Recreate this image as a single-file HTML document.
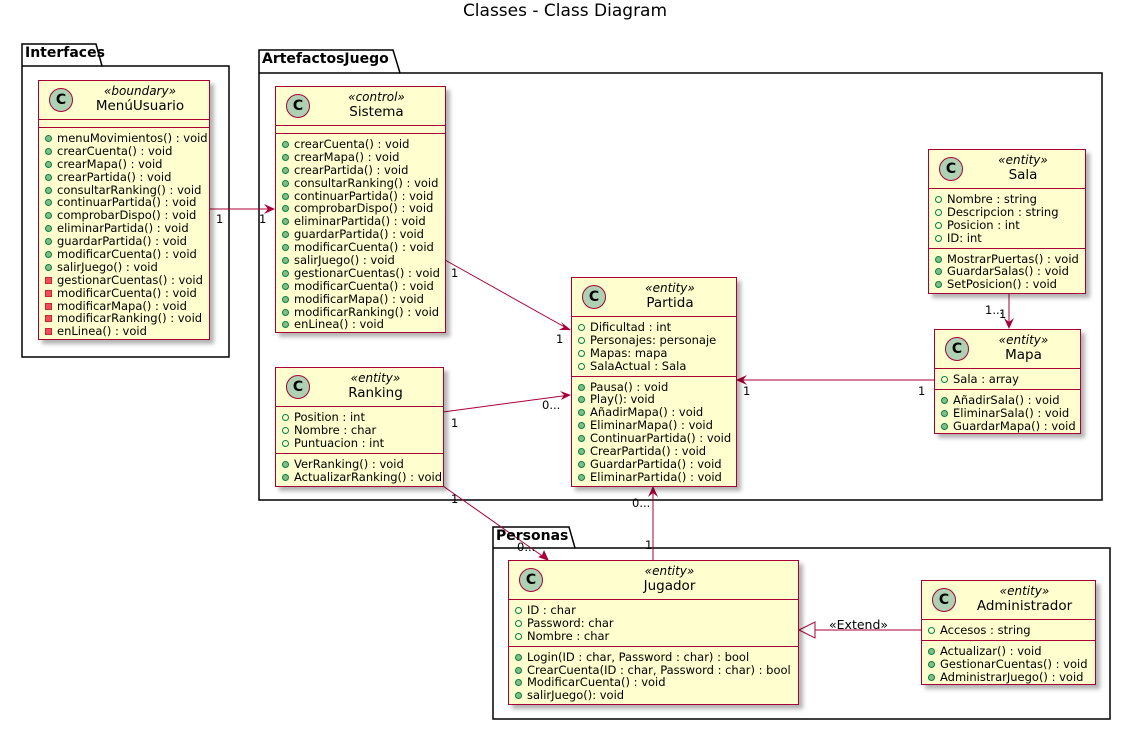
<!DOCTYPE html>
<html><head><meta charset="utf-8"><style>
body{margin:0;width:1130px;height:731px;background:#fff;position:relative;overflow:hidden;font-family:"DejaVu Sans","Liberation Sans",sans-serif;}
svg{position:absolute;left:0;top:0}
.c{position:absolute;background:#FEFECE;border:1.5px solid #A80036;box-shadow:4px 4px 4px rgba(0,0,0,.3);font-size:11.5px;color:#000;box-sizing:border-box;display:flex;flex-direction:column}
.h{height:38px;position:relative;flex:none}
.h .ci{position:absolute;left:10px;top:7px;width:22px;height:22px;border-radius:50%;background:#ADD1B2;border:1px solid #A80036;font:bold 14px "DejaVu Sans",sans-serif;text-align:center;line-height:22px}
.h .st{position:absolute;left:32px;right:0;top:3px;text-align:center;font-style:italic;font-size:12px}
.h .nm{position:absolute;left:32px;right:0;top:17px;text-align:center;font-size:13.5px}
.s{border-top:1.5px solid #A80036;padding:4px 0 3px 6px;flex:none}
.s.last{flex:1}
.r{height:12.9px;line-height:12.9px;white-space:nowrap}
.r i{display:inline-block;width:7px;height:7px;border-radius:50%;margin-right:5px;vertical-align:0px;box-sizing:border-box}
.f i{border:1px solid #038048;background:none}
.m i{background:#84BE84;border:1px solid #038048}
.p i{background:#F24D5C;border:1px solid #C82930;border-radius:0}
.t{position:absolute;font-size:11.5px;white-space:nowrap}
.pk{position:absolute;font-weight:bold;font-size:14px}
</style></head><body>
<div style="position:absolute;left:0;width:1130px;top:1px;text-align:center;font-size:17px">Classes - Class Diagram</div>
<svg width="1130" height="731">
<g fill="#fff" stroke="#000" stroke-width="1.5">
<polygon points="22,44 96,44 102,66 229,66 229,357 22,357"/>
<line x1="22" y1="66" x2="102" y2="66"/>
<polygon points="259,50 393,50 400,73 1102,73 1102,500 259,500"/>
<line x1="259" y1="73" x2="400" y2="73"/>
<polygon points="493,527 569,527 575,548 1110,548 1110,719 493,719"/>
<line x1="493" y1="548" x2="575" y2="548"/>
</g>
<g stroke="#A80036" stroke-width="1" fill="none">
<line x1="209" y1="209" x2="274" y2="209"/>
<line x1="445" y1="260" x2="570" y2="330"/>
<line x1="443" y1="412" x2="570" y2="395"/>
<line x1="934" y1="380" x2="737" y2="380"/>
<line x1="1009" y1="293" x2="1009" y2="328"/>
<line x1="443" y1="486" x2="548" y2="560"/>
<line x1="653" y1="560" x2="653" y2="487"/>
<line x1="921" y1="630" x2="815" y2="630"/>
</g>
<g fill="#A80036">
<polygon points="275,209 264,204 268,209 264,214"/>
<polygon points="571,330 559,330 564,327 561,322"/>
<polygon points="571,395 560,391 564,395 561,400"/>
<polygon points="736,380 747,375 743,380 747,385"/>
<polygon points="1009,329 1004,318 1009,322 1014,318"/>
<polygon points="549,561 544,550 542,555 538,557"/>
<polygon points="653,486 648,497 653,493 658,497"/>
</g>
<polygon points="799,630 815,622 815,638" fill="#fff" stroke="#A80036"/>
</svg>
<div class="pk" style="left:25px;top:45px">Interfaces</div>
<div class="pk" style="left:262px;top:51px">ArtefactosJuego</div>
<div class="pk" style="left:496px;top:528px">Personas</div>

<div class="c" style="left:38px;top:80px;width:172px;height:260px">
<div class="h"><div class="ci">C</div><div class="st">«boundary»</div><div class="nm">MenúUsuario</div></div>
<div class="s" style="height:7px;padding:0"></div>
<div class="s last">
<div class="r m"><i></i>menuMovimientos() : void</div><div class="r m"><i></i>crearCuenta() : void</div><div class="r m"><i></i>crearMapa() : void</div><div class="r m"><i></i>crearPartida() : void</div><div class="r m"><i></i>consultarRanking() : void</div><div class="r m"><i></i>continuarPartida() : void</div><div class="r m"><i></i>comprobarDispo() : void</div><div class="r m"><i></i>eliminarPartida() : void</div><div class="r m"><i></i>guardarPartida() : void</div><div class="r m"><i></i>modificarCuenta() : void</div><div class="r m"><i></i>salirJuego() : void</div><div class="r p"><i></i>gestionarCuentas() : void</div><div class="r p"><i></i>modificarCuenta() : void</div><div class="r p"><i></i>modificarMapa() : void</div><div class="r p"><i></i>modificarRanking() : void</div><div class="r p"><i></i>enLinea() : void</div>
</div></div>

<div class="c" style="left:275px;top:86px;width:171px;height:247px">
<div class="h"><div class="ci">C</div><div class="st">«control»</div><div class="nm">Sistema</div></div>
<div class="s" style="height:7px;padding:0"></div>
<div class="s last">
<div class="r m"><i></i>crearCuenta() : void</div><div class="r m"><i></i>crearMapa() : void</div><div class="r m"><i></i>crearPartida() : void</div><div class="r m"><i></i>consultarRanking() : void</div><div class="r m"><i></i>continuarPartida() : void</div><div class="r m"><i></i>comprobarDispo() : void</div><div class="r m"><i></i>eliminarPartida() : void</div><div class="r m"><i></i>guardarPartida() : void</div><div class="r m"><i></i>modificarCuenta() : void</div><div class="r m"><i></i>salirJuego() : void</div><div class="r m"><i></i>gestionarCuentas() : void</div><div class="r m"><i></i>modificarCuenta() : void</div><div class="r m"><i></i>modificarMapa() : void</div><div class="r m"><i></i>modificarRanking() : void</div><div class="r m"><i></i>enLinea() : void</div>
</div></div>

<div class="c" style="left:275px;top:367px;width:169px;height:120px">
<div class="h"><div class="ci">C</div><div class="st">«entity»</div><div class="nm">Ranking</div></div>
<div class="s"><div class="r f"><i></i>Position : int</div><div class="r f"><i></i>Nombre : char</div><div class="r f"><i></i>Puntuacion : int</div></div>
<div class="s last"><div class="r m"><i></i>VerRanking() : void</div><div class="r m"><i></i>ActualizarRanking() : void</div></div>
</div>

<div class="c" style="left:571px;top:277px;width:166px;height:210px">
<div class="h"><div class="ci">C</div><div class="st">«entity»</div><div class="nm">Partida</div></div>
<div class="s"><div class="r f"><i></i>Dificultad : int</div><div class="r f"><i></i>Personajes: personaje</div><div class="r f"><i></i>Mapas: mapa</div><div class="r f"><i></i>SalaActual : Sala</div></div>
<div class="s last"><div class="r m"><i></i>Pausa() : void</div><div class="r m"><i></i>Play(): void</div><div class="r m"><i></i>AñadirMapa() : void</div><div class="r m"><i></i>EliminarMapa() : void</div><div class="r m"><i></i>ContinuarPartida() : void</div><div class="r m"><i></i>CrearPartida() : void</div><div class="r m"><i></i>GuardarPartida() : void</div><div class="r m"><i></i>EliminarPartida() : void</div></div>
</div>

<div class="c" style="left:928px;top:149px;width:158px;height:145px">
<div class="h"><div class="ci">C</div><div class="st">«entity»</div><div class="nm">Sala</div></div>
<div class="s"><div class="r f"><i></i>Nombre : string</div><div class="r f"><i></i>Descripcion : string</div><div class="r f"><i></i>Posicion : int</div><div class="r f"><i></i>ID: int</div></div>
<div class="s last"><div class="r m"><i></i>MostrarPuertas() : void</div><div class="r m"><i></i>GuardarSalas() : void</div><div class="r m"><i></i>SetPosicion() : void</div></div>
</div>

<div class="c" style="left:934px;top:329px;width:147px;height:105px">
<div class="h"><div class="ci">C</div><div class="st">«entity»</div><div class="nm">Mapa</div></div>
<div class="s"><div class="r f"><i></i>Sala : array</div></div>
<div class="s last"><div class="r m"><i></i>AñadirSala() : void</div><div class="r m"><i></i>EliminarSala() : void</div><div class="r m"><i></i>GuardarMapa() : void</div></div>
</div>

<div class="c" style="left:508px;top:560px;width:291px;height:145px">
<div class="h"><div class="ci">C</div><div class="st">«entity»</div><div class="nm">Jugador</div></div>
<div class="s"><div class="r f"><i></i>ID : char</div><div class="r f"><i></i>Password: char</div><div class="r f"><i></i>Nombre : char</div></div>
<div class="s last"><div class="r m"><i></i>Login(ID : char, Password : char) : bool</div><div class="r m"><i></i>CrearCuenta(ID : char, Password : char) : bool</div><div class="r m"><i></i>ModificarCuenta() : void</div><div class="r m"><i></i>salirJuego(): void</div></div>
</div>

<div class="c" style="left:921px;top:580px;width:175px;height:105px">
<div class="h"><div class="ci">C</div><div class="st">«entity»</div><div class="nm">Administrador</div></div>
<div class="s"><div class="r f"><i></i>Accesos : string</div></div>
<div class="s last"><div class="r m"><i></i>Actualizar() : void</div><div class="r m"><i></i>GestionarCuentas() : void</div><div class="r m"><i></i>AdministrarJuego() : void</div></div>
</div>

<div class="t" style="left:216px;top:212px">1</div>
<div class="t" style="left:259px;top:212px">1</div>
<div class="t" style="left:451px;top:266px">1</div>
<div class="t" style="left:556px;top:332px">1</div>
<div class="t" style="left:451px;top:416px">1</div>
<div class="t" style="left:542px;top:398px">0...</div>
<div class="t" style="left:743px;top:384px">1</div>
<div class="t" style="left:918px;top:384px">1</div>
<div class="t" style="left:985px;top:303px">1...</div>
<div class="t" style="left:999px;top:307px">1</div>
<div class="t" style="left:451px;top:492px">1</div>
<div class="t" style="left:517px;top:540px">0...</div>
<div class="t" style="left:632px;top:496px">0...</div>
<div class="t" style="left:645px;top:538px">1</div>
<div class="t" style="left:829px;top:617px;font-size:12.5px">«Extend»</div>
</body></html>
